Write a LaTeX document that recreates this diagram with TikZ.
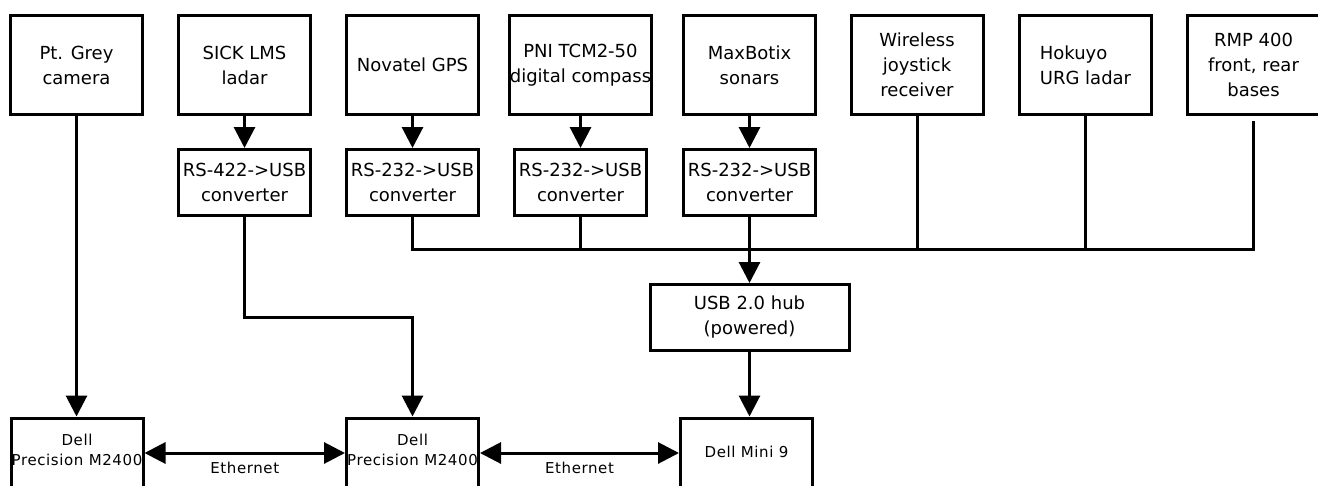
\documentclass[tikz,border=0pt]{standalone}
\usepackage{fontspec}
\setmainfont{DejaVu Sans}
\usetikzlibrary{arrows.meta}
\newcommand{\topfnt}{\fontsize{18}{25}\selectfont}
\newcommand{\lowfnt}{\fontsize{15}{20}\selectfont\addfontfeature{LetterSpace=4}}
\begin{document}
\begin{tikzpicture}[x=1pt,y=-1pt,
  topbox/.style={draw,line width=3pt,minimum width=132pt,minimum height=99pt,inner sep=0pt,align=center,font=\topfnt},
  convbox/.style={draw,line width=3pt,minimum width=132pt,minimum height=66pt,inner sep=0pt,align=center,font=\topfnt},
  hubbox/.style={draw,line width=3pt,minimum width=199pt,minimum height=66pt,inner sep=0pt,align=center,font=\topfnt},
  lowbox/.style={draw,line width=3pt,minimum width=132pt,minimum height=70pt,inner sep=0pt},
  lowtext/.style={inner sep=0pt,align=center,font=\lowfnt},
  wire/.style={line width=3pt},
  arr/.style={line width=3pt,-{Triangle[width=21pt,length=21pt]}},
  darr/.style={line width=3pt,{Triangle[width=21pt,length=21pt]}-{Triangle[width=21pt,length=21pt]}}
]
\clip (0,0) rectangle (1318,485);
\fill[white] (0,0) rectangle (1318,485);
% top row
\node[topbox] (cam) at (76.5,65) {Pt. Grey\\camera};
\node[topbox] (sick) at (244.5,65) {SICK LMS\\ladar};
\node[topbox] (gps) at (412.5,65) {Novatel GPS};
\node[topbox] (pni) at (580.5,65) {PNI TCM2-50\\digital compass};
\node[topbox] (max) at (749.5,65) {MaxBotix\\sonars};
\node[topbox] (joy) at (917,65) {Wireless\\joystick\\receiver};
\node[topbox] (hok) at (1085.5,65) [align=left] {Hokuyo\\URG ladar};
\node[topbox] (rmp) at (1253.5,65) {RMP 400\\front, rear\\bases};
% converters
\node[convbox] (c1) at (244.5,182.5) {RS-422->USB\\converter};
\node[convbox] (c2) at (412.5,182.5) {RS-232->USB\\converter};
\node[convbox] (c3) at (580.5,182.5) {RS-232->USB\\converter};
\node[convbox] (c4) at (749.5,182.5) {RS-232->USB\\converter};
% hub
\node[hubbox] (hub) at (749.5,317.5) {USB 2.0 hub\\(powered)};
% bottom
\node[lowbox] (d1) at (77,453) {};
\node[lowbox] (d2) at (412.5,453) {};
\node[lowbox] (d3) at (746.5,453) {};
\node[lowtext] (d1t) at (77,450) {Dell\\Precision M2400};
\node[lowtext] (d2t) at (412.5,450) {Dell\\Precision M2400};
\node[lowtext] (d3t) at (746.5,452) {Dell Mini 9};
% bus coordinates
\coordinate (busL) at (412.5,249);
\coordinate (busR) at (1253.5,249);
\coordinate (sk1) at (244.5,317);
\coordinate (sk2) at (412.5,317);
\coordinate (rmpt) at (1253.5,121);
% arrows top -> converters
\draw[arr] (sick) -- (c1);
\draw[arr] (gps) -- (c2);
\draw[arr] (pni) -- (c3);
\draw[arr] (max) -- (c4);
% camera
\draw[arr] (cam.south) -- (cam.south |- d1.north);
% sick path
\draw[arr] (c1.south) -- (sk1) -- (sk2) -- (d2.north);
% bus
\draw[wire] (c2.south) -- (busL) -- (busR) -- (rmpt);
\draw[wire] (c3.south) -- (c3.south |- busL);
\draw[wire] (joy.south) -- (joy.south |- busL);
\draw[wire] (hok.south) -- (hok.south |- busL);
\draw[arr] (c4.south) -- (hub.north);
\draw[arr] (hub.south) -- (hub.south |- d3.north);
% ethernet
\draw[darr] (d1.east) -- node[lowtext,below=8pt] (e1) {Ethernet} (d2.west);
\draw[darr] (d2.east) -- node[lowtext,below=8pt] (e2) {Ethernet} (d3.west);
\end{tikzpicture}
\end{document}
